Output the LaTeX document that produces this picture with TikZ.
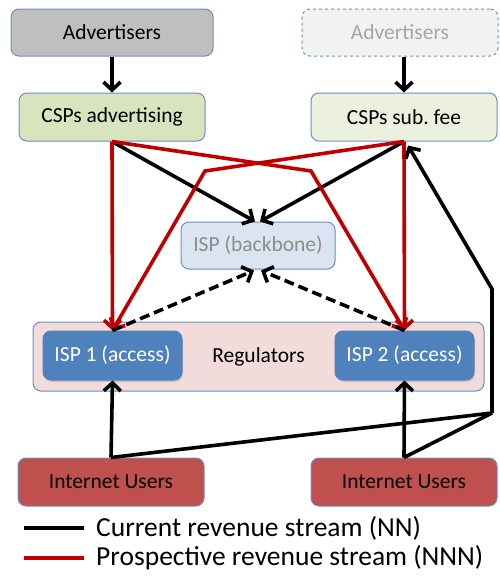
\documentclass[tikz,border=0pt]{standalone}
\usepackage{fontspec}
\setmainfont{Carlito}
\usetikzlibrary{arrows.meta,calc,shadows}
\definecolor{bord}{RGB}{108,142,196}
\definecolor{advgray}{HTML}{BFBFBF}
\definecolor{advlight}{HTML}{F2F2F2}
\definecolor{advtext}{HTML}{A6A6A6}
\definecolor{cspA}{HTML}{D7E4BD}
\definecolor{cspB}{HTML}{EBF1DE}
\definecolor{bbfill}{HTML}{DBE5F1}
\definecolor{bbtext}{HTML}{8C8C8C}
\definecolor{regfill}{HTML}{F2DCDB}
\definecolor{ispfill}{HTML}{4F81BD}
\definecolor{iufill}{HTML}{C0504D}
\definecolor{revred}{HTML}{C00000}
\tikzset{
  box/.style={draw=bord, line width=1pt, rounded corners=8pt, minimum width=#1, inner sep=0pt, font=\fontsize{21.5}{25}\selectfont},
  box/.default=186pt,
  accessbox/.style={box=139pt, minimum height=49pt, fill=ispfill, draw=ispfill, text=white,
    drop shadow={shadow xshift=1pt, shadow yshift=-2pt, opacity=0.25}},
  flow/.style={line width=3.6pt, -{Straight Barb[length=8pt,width=17pt]}},
  redflow/.style={flow, draw=revred, line join=miter},
  dashflow/.style={flow, dash pattern=on 10pt off 5pt},
  plain/.style={line width=3.6pt}
}
\begin{document}
\begin{tikzpicture}[x=1pt,y=-1pt]
\useasboundingbox (0,0) rectangle (499,576);
% nodes
\node[box=202pt, minimum height=47pt, fill=advgray] (adv1) at (112,32.5) {Advertisers};
\node[box=196pt, minimum height=47pt, fill=advlight, dashed, text=advtext] (adv2) at (400,32.5) {Advertisers};
\node[box, minimum height=48pt, fill=cspA] (csp1) at (112,117) {CSPs advertising};
\node[box, minimum height=48pt, fill=cspB] (csp2) at (404,117) {CSPs sub.\ fee};
\node[box=154pt, minimum height=47pt, fill=bbfill, text=bbtext] (bb) at (258,245.5) {ISP (backbone)};
\node[box=451pt, minimum height=69pt, fill=regfill] (reg) at (258.5,356.5) {Regulators};
\node[accessbox] (isp1) at (112.5,355.5) {ISP 1 (access)};
\node[accessbox] (isp2) at (404.5,355.5) {ISP 2 (access)};
\node[box, minimum height=48pt, fill=iufill] (iu1) at (111,482) {Internet Users};
\node[box, minimum height=48pt, fill=iufill] (iu2) at (404,482) {Internet Users};
% helper coordinates
\coordinate (bbTL) at ($(bb.north)+(-3,0)$);
\coordinate (bbTR) at ($(bb.north)+(2,0)$);
\coordinate (bbBL) at ($(bb.south)+(-4,1)$);
\coordinate (bbBR) at ($(bb.south)+(3,1)$);
\coordinate (kinkR) at (311,171);
\coordinate (kinkL) at (205,171);
\coordinate (join) at (492,413);
\coordinate (rise) at (492,289);
\coordinate (cspIn) at ($(csp2.south)+(4,4)$);
\coordinate (a2s) at ($(adv2.south)+(4,0)$);
% advertisers to CSPs
\draw[flow] (adv1.south) -- (csp1.north);
\draw[flow] (a2s) -- (a2s |- csp2.north);
% black to backbone
\draw[flow] (csp1.south) -- (bbTL);
\draw[flow] (csp2.south) -- (bbTR);
% red prospective streams
\draw[redflow] (csp1.south) -- (isp1.north);
\draw[redflow] (csp2.south) -- (isp2.north);
\draw[redflow] (csp1.south) -- (kinkR) -- (isp2.north);
\draw[redflow] (csp2.south) -- (kinkL) -- (isp1.north);
% dashed peering
\draw[dashflow] (isp1.north) -- (bbBL);
\draw[dashflow] (isp2.north) -- (bbBR);
% users to access ISPs
\draw[flow] (iu1.north) -- (isp1.south);
\draw[flow] (iu2.north) -- (isp2.south);
% users to CSP subscription fee
\draw[plain, line join=miter] (iu1.north) -- (join);
\draw[plain, line join=miter] (iu2.north) -- (join);
\draw[flow, line join=miter] (join) -- (rise) -- (cspIn);
% legend
\coordinate (l1a) at (24,528);
\coordinate (l1b) at (84,528);
\coordinate (l2a) at (24,558);
\coordinate (l2b) at (84,558);
\draw[line width=4.5pt] (l1a) -- (l1b);
\draw[line width=4.5pt, revred] (l2a) -- (l2b);
\node[anchor=west, inner sep=0pt, font=\fontsize{27.5}{32}\selectfont] (leg1) at (96,528) {Current revenue stream (NN)};
\node[anchor=west, inner sep=0pt, font=\fontsize{27.5}{32}\selectfont] (leg2) at (96,558) {Prospective revenue stream (NNN)};
\end{tikzpicture}
\end{document}
